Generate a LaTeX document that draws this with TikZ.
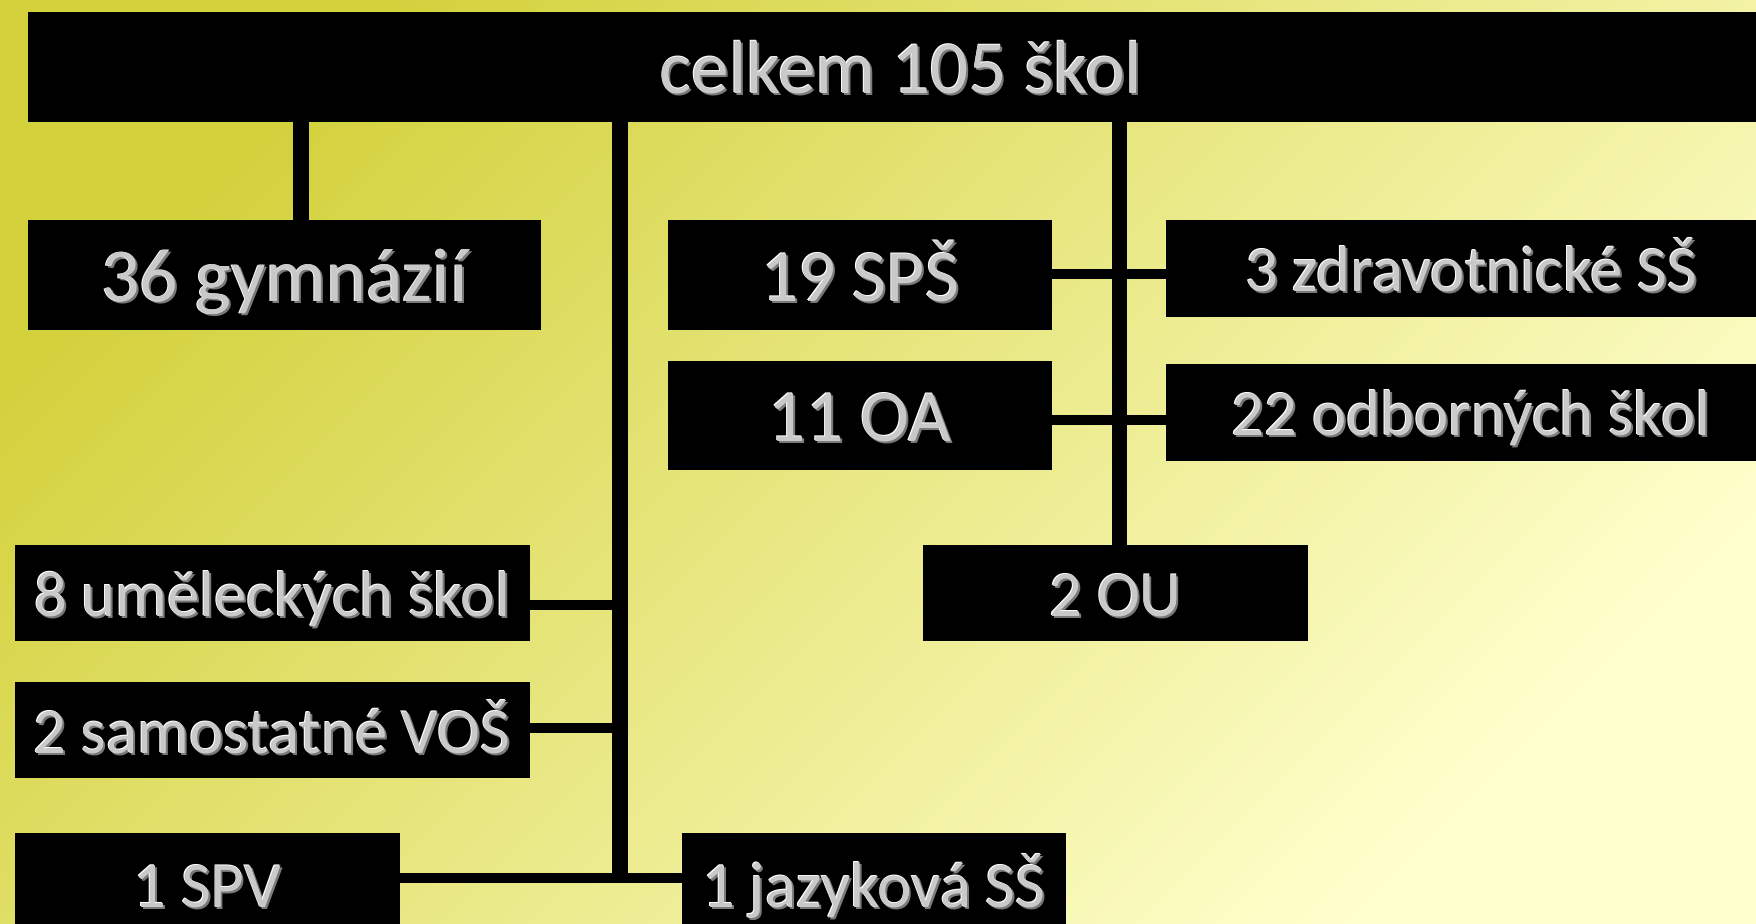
\documentclass[tikz,border=0pt]{standalone}
\usepackage{fontspec}
\setmainfont{Carlito}
\definecolor{bgA}{HTML}{D3D13C}
\definecolor{bgM}{HTML}{E9E88E}
\definecolor{bgB}{HTML}{FFFFCE}
\definecolor{embfill}{HTML}{C9C9C9}
\definecolor{embshadow}{HTML}{7A7A7A}
\newcommand\embtext[1]{\leavevmode\rlap{\kern1pt\raisebox{-1pt}{\color{embshadow}#1}}\rlap{\kern-0.45pt\raisebox{0.45pt}{\color{white}#1}}{\color{embfill}#1}}
\tikzset{
  box/.style={fill=black, draw=none, inner sep=0pt, align=center, text depth=0pt},
  vline/.style={draw=black, line width=7.75pt},
  hline/.style={draw=black, line width=4.75pt},
  fa/.style={font=\fontsize{37.6}{40}\selectfont, text height=26.2pt},
  fb/.style={font=\fontsize{38}{42}\selectfont, text height=26.9pt},
  fc/.style={font=\fontsize{37}{40}\selectfont, text height=26.3pt},
  fd/.style={font=\fontsize{32.4}{35}\selectfont, text height=23.4pt},
}
\begin{document}
\begin{tikzpicture}[x=0.5pt, y=-0.5pt]
\useasboundingbox (0,0) rectangle (1756,923);
\shade[shading=axis, top color=bgA, middle color=bgM, bottom color=bgB, shading angle=45] (0,0) rectangle (1756,923);

\node[box, fa, minimum width=873pt, minimum height=55pt] (top) at (901,67) {\embtext{celkem 105 škol}};
\node[box, fb, minimum width=256.5pt, minimum height=55pt] (gym) at (284.5,275) {\embtext{36 gymnázií}};
\node[box, fc, minimum width=192pt, minimum height=55pt] (sps) at (860,275) {\embtext{19 SPŠ}};
\node[box, fc, minimum width=192pt, minimum height=54.25pt] (oa) at (860,415.25) {\embtext{11 OA}};
\node[box, fd, minimum width=305pt, minimum height=48.25pt] (zdr) at (1471,268.25) {\embtext{3 zdravotnické SŠ}};
\node[box, fd, minimum width=305pt, minimum height=48.25pt] (odb) at (1471,412.25) {\embtext{22 odborných škol}};
\node[box, fd, minimum width=192.5pt, minimum height=48pt] (ou) at (1115.5,593) {\embtext{2 OU}};
\node[box, fd, minimum width=257.5pt, minimum height=48pt] (um) at (272,593) {\embtext{8 uměleckých škol}};
\node[box, fd, minimum width=257.5pt, minimum height=48pt] (vos) at (272,730) {\embtext{2 samostatné VOŠ}};
\node[box, fd, minimum width=192.7pt, minimum height=51pt] (spv) at (207.3,884) {\embtext{1 SPV}};
\node[box, fd, minimum width=191.75pt, minimum height=51pt] (jaz) at (873.75,884) {\embtext{1 jazyková SŠ}};

\coordinate (t1) at (301,0);
\coordinate (t2) at (620,881);
\coordinate (t3) at (1119.5,0);
\coordinate (r1) at (0,274);
\coordinate (r2) at (0,420);
\coordinate (r3) at (0,605);
\coordinate (r4) at (0,728);
\coordinate (r5) at (0,878);

\draw[vline] (top.south -| t1) -- (gym.north -| t1);
\draw[vline] (top.south -| t2) -- (t2);
\draw[vline] (top.south -| t3) -- (ou.north -| t3);

\draw[hline] (sps.east |- r1) -- (zdr.west |- r1);
\draw[hline] (oa.east |- r2) -- (odb.west |- r2);
\draw[hline] (um.east |- r3) -- (t2 |- r3);
\draw[hline] (vos.east |- r4) -- (t2 |- r4);
\draw[hline] (spv.east |- r5) -- (jaz.west |- r5);
\end{tikzpicture}
\end{document}
